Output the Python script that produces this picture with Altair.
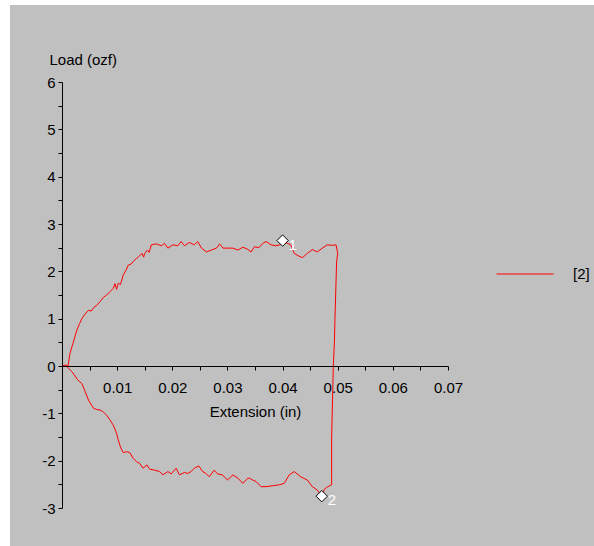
import altair as alt
import pandas as pd

# ---- data ----
upper_x = [0, 0.0006, 0.0011, 0.00145, 0.002, 0.0027, 0.0032, 0.0036, 0.0042, 0.0048,
           0.0053, 0.0058, 0.0063, 0.0069, 0.0075, 0.0081, 0.0087, 0.0093, 0.0096, 0.0099,
           0.0102, 0.0106, 0.0111, 0.0116, 0.012, 0.0125, 0.013, 0.0135, 0.014, 0.0145,
           0.0148, 0.015, 0.0155, 0.0158, 0.0162, 0.0171, 0.018, 0.0186, 0.0192, 0.0201,
           0.021, 0.0216, 0.0222, 0.0231, 0.024, 0.0246, 0.0253, 0.0262, 0.0271, 0.028,
           0.0286, 0.0292, 0.031, 0.0319, 0.0328, 0.0336, 0.0343, 0.0349, 0.0357, 0.0364,
           0.037, 0.0379, 0.0388, 0.0395, 0.0402, 0.0409, 0.0415, 0.0421, 0.0428, 0.0436,
           0.0445, 0.0454, 0.0463, 0.0472, 0.0481, 0.049, 0.0497, 0.05]
upper_y = [0, 0.02, 0.0, 0.27, 0.48, 0.76, 0.9, 1.0, 1.1, 1.18,
           1.16, 1.24, 1.28, 1.36, 1.45, 1.5, 1.57, 1.64, 1.74, 1.62,
           1.75, 1.72, 1.92, 2.02, 2.13, 2.15, 2.22, 2.27, 2.32, 2.38,
           2.3, 2.38, 2.45, 2.4, 2.56, 2.58, 2.54, 2.59, 2.49, 2.56,
           2.54, 2.63, 2.54, 2.61, 2.56, 2.63, 2.49, 2.41, 2.45, 2.49,
           2.58, 2.49, 2.49, 2.45, 2.51, 2.47, 2.41, 2.52, 2.5, 2.59,
           2.63, 2.56, 2.54, 2.56, 2.62, 2.59, 2.56, 2.38, 2.33, 2.29,
           2.38, 2.46, 2.41, 2.49, 2.56, 2.55, 2.56, 2.38]

drop_x = [0.0498, 0.0495, 0.0494, 0.0492, 0.0489, 0.0489, 0.0489]
drop_y = [2.2, 1.0, 0.5, 0.0, -1.5, -2.3, -2.51]

lower_x = [0.0482, 0.0476, 0.0471, 0.0463, 0.0454, 0.0445, 0.0433, 0.0421, 0.0412, 0.0403,
           0.0394, 0.0382, 0.037, 0.0361, 0.0352, 0.0346, 0.034, 0.0337, 0.0328, 0.0319,
           0.031, 0.03, 0.0291, 0.0282, 0.0276, 0.0267, 0.0261, 0.0255, 0.0248, 0.024,
           0.0234, 0.0228, 0.0222, 0.0213, 0.0207, 0.0198, 0.0192, 0.0183, 0.0177, 0.0168,
           0.0159, 0.0154, 0.0147, 0.0141, 0.0135, 0.0129, 0.0123, 0.0117, 0.0111, 0.0106,
           0.0102, 0.0099, 0.0093, 0.0087, 0.0081, 0.0075, 0.0069, 0.0063, 0.0057, 0.0048,
           0.0042, 0.0036, 0.0029, 0.0018, 0.00085, 0]
lower_y = [-2.55, -2.6, -2.75, -2.62, -2.55, -2.41, -2.34, -2.23, -2.3, -2.48,
           -2.51, -2.53, -2.55, -2.55, -2.44, -2.41, -2.37, -2.37, -2.48, -2.37,
           -2.3, -2.41, -2.3, -2.28, -2.2, -2.34, -2.27, -2.23, -2.11, -2.16,
           -2.23, -2.27, -2.25, -2.3, -2.16, -2.28, -2.23, -2.3, -2.23, -2.2,
           -2.18, -2.09, -2.16, -2.06, -2.02, -1.95, -1.83, -1.81, -1.83, -1.71,
           -1.56, -1.42, -1.25, -1.14, -1.04, -0.97, -0.93, -0.92, -0.89, -0.72,
           -0.54, -0.37, -0.30, -0.12, -0.01, 0]

marker_x = [0.0400, 0.0471]
marker_y = [2.65, -2.75]
marker_label = ["1", "2"]

series_name = "[2]"
x_ticks = [round(i * 0.005, 3) for i in range(15)]
y_ticks = [i * 0.5 - 3 for i in range(19)]

# ---- tables ----
xs = upper_x + drop_x + lower_x
ys = upper_y + drop_y + lower_y
df = pd.DataFrame({"ext": xs, "load": ys, "step": list(range(len(xs))), "series": series_name})
mk = pd.DataFrame({"ext": marker_x, "load": marker_y, "lab": marker_label})

FONT = "Liberation Sans"
FS = 15
W, H = 386, 426
GRAY = "#c0c0c0"

x_scale = alt.Scale(domain=[0, 0.07], nice=False, zero=False)
y_scale = alt.Scale(domain=[-3, 6], nice=False, zero=False)

x_axis = alt.Axis(
    values=x_ticks,
    labelExpr="(datum.value > 0 && round(datum.value * 1000) % 10 == 0) ? format(datum.value, '.2f') : ''",
    offset=-142, tickSize=4, labelPadding=10, grid=False, zindex=1,
    domainColor="black", tickColor="black", labelColor="black",
    labelFont=FONT, labelFontSize=FS, labelFlush=False, labelOverlap=False,
    title="Extension (in)", titleFont=FONT, titleFontSize=FS, titleFontWeight="normal",
    titleColor="black", titleX=193, titleY=45, titleAlign="center", titleBaseline="middle",
)
y_axis = alt.Axis(
    values=y_ticks,
    labelExpr="(datum.value % 1 == 0) ? ('' + datum.value) : ''",
    tickSize=4, labelPadding=3, grid=False, zindex=1,
    domainColor="black", tickColor="black", labelColor="black",
    labelFont=FONT, labelFontSize=FS, labelOverlap=False, labelFlush=False,
    title="Load (ozf)", titleFont=FONT, titleFontSize=FS, titleFontWeight="normal",
    titleColor="black", titleAngle=0, titleX=-13, titleY=-23,
    titleAlign="left", titleBaseline="middle",
)

X = alt.X("ext:Q", scale=x_scale, axis=x_axis)
Y = alt.Y("load:Q", scale=y_scale, axis=y_axis)

bg = alt.Chart(alt.Data(values=[{}])).mark_rect(color=GRAY).encode(
    x=alt.value(-52), x2=alt.value(532), y=alt.value(-77), y2=alt.value(464)
)

line = alt.Chart(df).mark_line(strokeWidth=1).encode(
    x=X, y=Y,
    order="step:Q",
    color=alt.Color(
        "series:N",
        scale=alt.Scale(domain=[series_name], range=["#ff0000"]),
        legend=alt.Legend(
            title=None, orient="none", legendX=434, legendY=163,
            symbolType="stroke", symbolSize=3249, symbolStrokeWidth=1,
            labelFont=FONT, labelFontSize=FS, labelColor="black",
            labelOffset=19, padding=0,
        ),
    ),
)

pts = alt.Chart(mk).mark_point(
    shape="diamond", filled=True, fill="white", stroke="black",
    strokeWidth=1, size=130, opacity=1,
).encode(x=X, y=Y)

labels = alt.Chart(mk).mark_text(
    color="white", align="left", baseline="middle", dx=6, dy=4,
    font=FONT, fontSize=FS,
).encode(x=X, y=Y, text="lab:N")

chart = alt.layer(bg, line, pts, labels).properties(
    width=W, height=H,
    padding={"left": 62, "top": 82, "right": 146, "bottom": 38},
    autosize="none",
    background="white",
).configure_view(strokeWidth=0)

chart.save("out.html", embed_options={"renderer": "svg", "actions": False})
